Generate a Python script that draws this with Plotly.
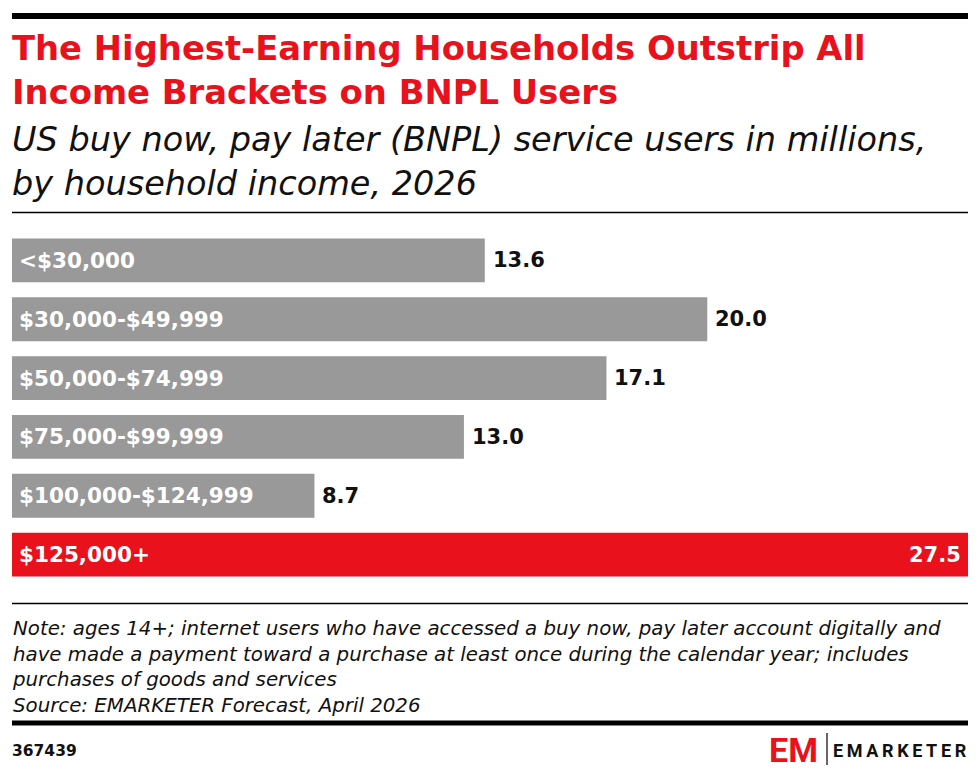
import plotly.graph_objects as go

# data
brackets = ['<$30,000', '$30,000-$49,999', '$50,000-$74,999',
            '$75,000-$99,999', '$100,000-$124,999', '$125,000+']
users = [13.6, 20.0, 17.1, 13.0, 8.7, 27.5]

GRAY = '#999999'
RED = '#E8111C'
INK = '#111111'
FONT = 'DejaVu Sans'
colors = [GRAY] * 5 + [RED]

fig = go.Figure()
fig.add_trace(go.Bar(
    x=users, y=brackets, orientation='h',
    marker=dict(color=colors, line=dict(width=0)),
    hoverinfo='skip',
))

# category labels inside the bars, values at the bar ends
for i, b in enumerate(brackets):
    fig.add_annotation(x=0, y=b, xref='x', yref='y', text='<b>%s</b>' % b,
                       xanchor='left', xshift=5, showarrow=False,
                       font=dict(family=FONT, size=21.5, color='white'))
    last = i == len(brackets) - 1
    fig.add_annotation(x=users[i], y=b, xref='x', yref='y', text='<b>%.1f</b>' % users[i],
                       xanchor='right' if last else 'left', xshift=-5 if last else 6,
                       showarrow=False,
                       font=dict(family=FONT, size=21, color='white' if last else INK))

fig.update_xaxes(range=[0, 27.5], visible=False)
fig.update_yaxes(autorange='reversed', visible=False)


# page body has an 8px margin, so the figure is 8px smaller and these
# helpers take positions as measured on the reference picture
def py(px):
    return 1 - (px - 230.5) / 354


def px_x(px):
    return (px - 12) / 956


def block(text, baseline, size, color=INK):
    # top of the text box is about one ascent above the first baseline
    fig.add_annotation(xref='paper', yref='paper', x=px_x(10), y=py(baseline - 0.93 * size - 1),
                       xanchor='left', yanchor='top', align='left', showarrow=False, text=text,
                       font=dict(family=FONT, size=size, color=color))


block('<b>The Highest-Earning Households Outstrip All<br>Income Brackets on BNPL Users</b>',
      58, 33.8, RED)
block('<i>US buy now, pay later (BNPL) service users in millions,<br>by household income, 2026</i>',
      149, 33.5)

notes = ['Note: ages 14+; internet users who have accessed a buy now, pay later account digitally and',
         'have made a payment toward a purchase at least once during the calendar year; includes',
         'purchases of goods and services',
         'Source: EMARKETER Forecast, April 2026']
block('<i>' + '<br>'.join(notes) + '</i>', 635, 19.8)
block('<b>367439</b>', 756.5, 15.5)

shapes = [
    dict(y0=py(15), y1=py(15), line=dict(color='black', width=6)),
    dict(y0=py(212), y1=py(212), line=dict(color='black', width=1.5)),
    dict(y0=py(604), y1=py(604), line=dict(color='black', width=1.5)),
    dict(y0=py(724), y1=py(724), line=dict(color='black', width=5)),
]
for s in shapes:
    fig.add_shape(type='line', xref='paper', yref='paper', x0=px_x(12), x1=px_x(968), **s)
fig.add_shape(type='line', xref='paper', yref='paper', x0=px_x(827), x1=px_x(827),
              y0=py(734), y1=py(766), line=dict(color='black', width=1.2))

# logo
fig.add_annotation(xref='paper', yref='paper', x=px_x(820), y=py(751), xanchor='right',
                   yanchor='middle', showarrow=False, text='<b>EM</b>',
                   font=dict(family='Roboto', size=34, color=RED))
fig.add_annotation(xref='paper', yref='paper', x=px_x(969), y=py(751), xanchor='right',
                   yanchor='middle', showarrow=False,
                   text='<b>' + '\u2009'.join('EMARKETER') + '</b>',
                   font=dict(family='Roboto', size=18, color=INK))

fig.update_layout(
    width=972, height=771,
    margin=dict(l=4, r=12, t=222.5, b=194.5),
    bargap=15 / 59,
    plot_bgcolor='white', paper_bgcolor='white',
    showlegend=False,
)

fig.write_html('out.html')
